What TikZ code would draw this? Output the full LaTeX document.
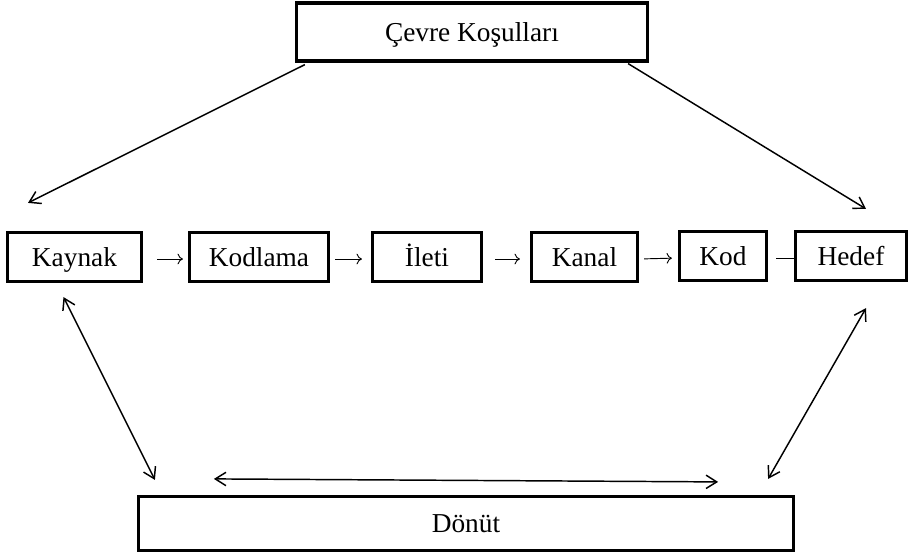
\documentclass[tikz,border=0pt]{standalone}
\usepackage{fontspec}
\setmainfont{Liberation Serif}
\usetikzlibrary{calc,arrows.meta}
\tikzset{>={Straight Barb[length=8pt,width=10pt]}}
\tikzset{kutu/.style={draw, line width=2.4pt, fill=white, inner sep=0pt,
    minimum height=36.75pt, text height=14pt, text depth=0pt,
    font=\fontsize{20.5}{24}\selectfont},
  ok/.style={line width=1.1pt},
  kucukok/.style={line width=0.7pt, -{To[length=4pt,width=8pt]}}}
\pgfdeclarelayer{background}
\pgfsetlayers{background,main}

\begin{document}
\begin{tikzpicture}[x=0.75pt,y=-0.75pt]
\useasboundingbox (0,0) rectangle (910,558);
% the environment box on top
\node[kutu, minimum width=263.25pt, minimum height=43.5pt] (cevre) at (472,32) {Çevre Koşulları};

% the chain of the communication process
\node[kutu, minimum width=100.5pt] (kaynak) at (74.5,257) {Kaynak};
\node[kutu, minimum width=104.25pt] (kodlama) at (259,257) {Kodlama};
\node[kutu, minimum width=81.75pt] (ileti) at (427,257) {İleti};
\node[kutu, minimum width=79.5pt] (kanal) at (584.5,257) {Kanal};
\node[kutu, minimum width=65.25pt] (kod) at (723,256) {Kod};
\node[kutu, minimum width=83.25pt] (hedef) at (851,256) {Hedef};

% the feedback box at the bottom
\node[kutu, minimum width=491.25pt, minimum height=40.5pt] (donut) at (466,523.5) {Dönüt};

% small arrows between the boxes (the last one runs under Hedef)
\begin{pgfonlayer}{background}
\foreach \a/\b/\s/\e in {kaynak/kodlama/10.5/3.75, kodlama/ileti/3.75/6.75,
    ileti/kanal/9/7.5, kanal/kod/3.75/4.5, kod/hedef/6/-6}
  \draw[kucukok, shorten <=\s pt, shorten >=\e pt]
    ([yshift=-1.5pt]\a.east) -- ([yshift=-1.5pt]\b.west);
\end{pgfonlayer}

% environment acts on source and target
\draw[ok,->] ($(cevre.south west)+(10,2)$) -- ($(kaynak.north)+(-46.5,-28)$);
\draw[ok,->] ($(cevre.south east)+(-21,1)$) -- ($(hedef.north)+(15,-21)$);

% feedback
\draw[ok,<->] ($(kaynak.south)+(-11,14)$) -- ($(donut.north west)+(18,-15)$);
\draw[ok,<->] ($(hedef.south)+(15,26)$) -- ($(donut.north east)+(-27,-16)$);
\draw[ok,<->] ($(donut.north west)+(77,-16)$) -- ($(donut.north east)+(-77,-13)$);
\end{tikzpicture}
\end{document}
